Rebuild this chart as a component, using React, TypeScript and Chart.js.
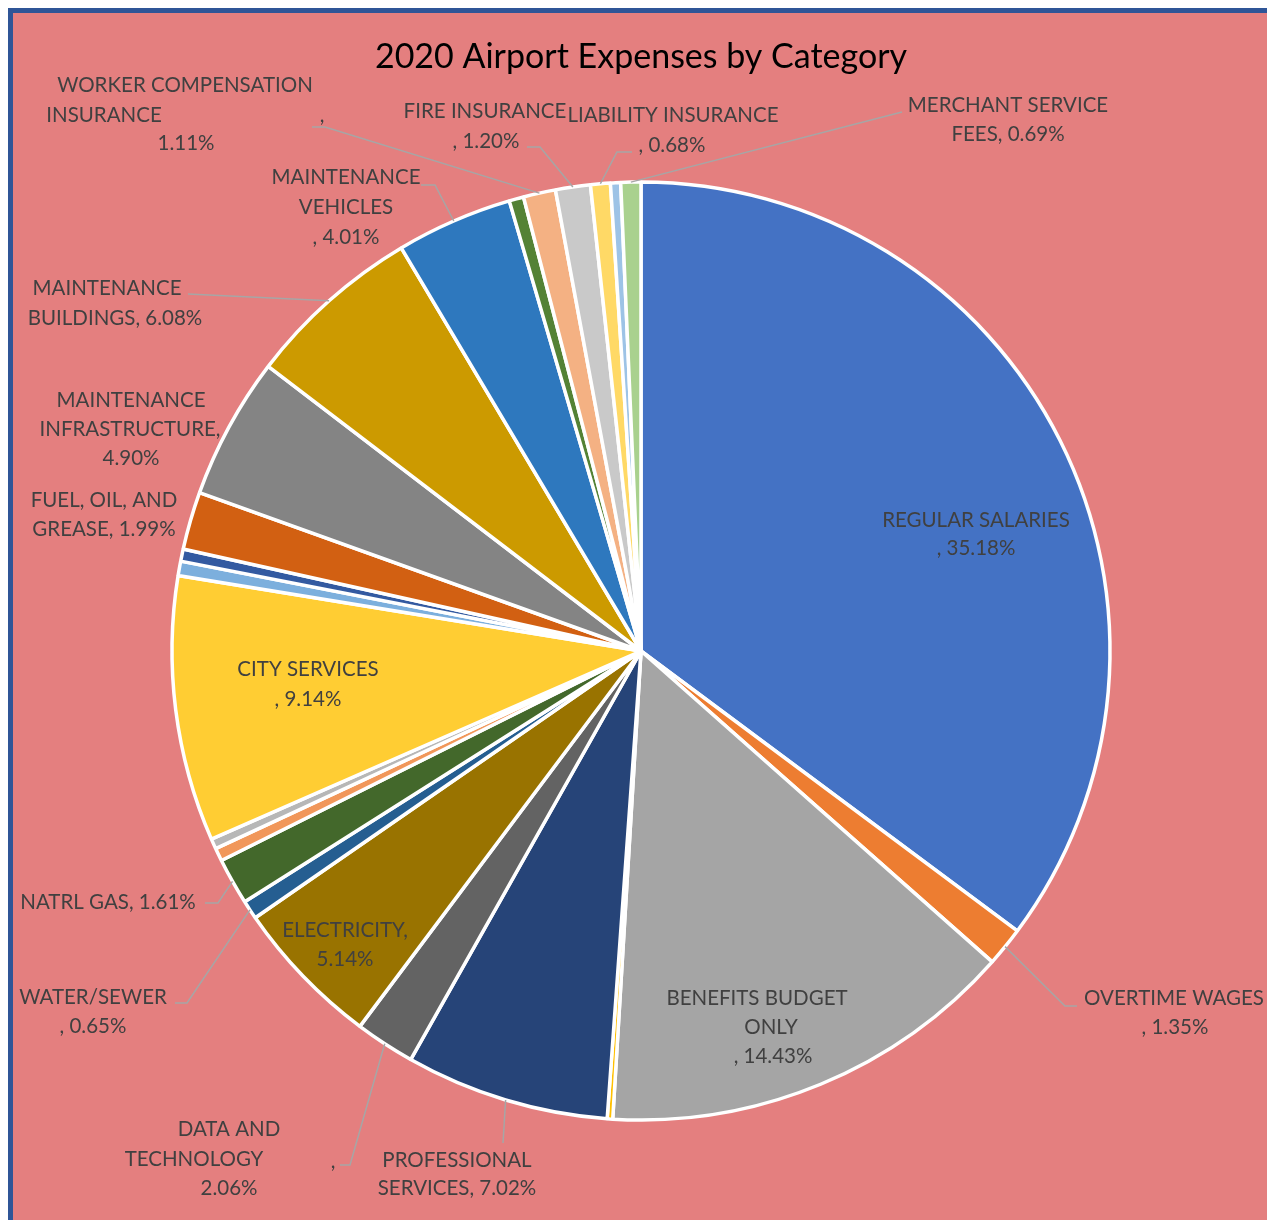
import React, { useEffect, useRef } from "react";
import { Chart, registerables } from "chart.js";

Chart.register(...registerables);

const TITLE = "2020 Airport Expenses by Category";

const CATEGORIES = [
  "REGULAR SALARIES",
  "OVERTIME WAGES",
  "BENEFITS BUDGET ONLY",
  "",
  "PROFESSIONAL SERVICES",
  "DATA AND TECHNOLOGY",
  "ELECTRICITY",
  "WATER/SEWER",
  "NATRL GAS",
  "",
  "",
  "CITY SERVICES",
  "",
  "",
  "FUEL, OIL, AND GREASE",
  "MAINTENANCE INFRASTRUCTURE",
  "MAINTENANCE BUILDINGS",
  "MAINTENANCE VEHICLES",
  "",
  "WORKER COMPENSATION INSURANCE",
  "FIRE INSURANCE",
  "LIABILITY INSURANCE",
  "",
  "MERCHANT SERVICE FEES",
];

const VALUES = [
  35.18, 1.35, 14.43, 0.19, 7.02, 2.06, 5.14, 0.65, 1.61, 0.45, 0.35, 9.14,
  0.5, 0.42, 1.99, 4.9, 6.08, 4.01, 0.5, 1.11, 1.2, 0.68, 0.35, 0.69,
];

const COLORS = [
  "#4472C4", "#ED7D31", "#A5A5A5", "#FFC000", "#264478", "#636363",
  "#997300", "#255E91", "#43682B", "#F1975A", "#B7B7B7", "#FFCD33",
  "#7CAFDD", "#335AA1", "#D26012", "#848484", "#CC9A00", "#2E78BE",
  "#548235", "#F4B183", "#C9C9C9", "#FFD966", "#9DC3E6", "#A9D18E",
];

// Label text lines ("{p}" = the slice percentage)
const LABEL_LINES: (string[] | null)[] = [
  ["REGULAR SALARIES", ", {p}"],
  ["OVERTIME WAGES", ", {p}"],
  ["BENEFITS BUDGET", "ONLY", ", {p}"],
  null,
  ["PROFESSIONAL", "SERVICES, {p}"],
  ["DATA AND", "TECHNOLOGY", "{p}", ","],
  ["ELECTRICITY,", "{p}"],
  ["WATER/SEWER", ", {p}"],
  ["NATRL GAS, {p}"],
  null,
  null,
  ["CITY SERVICES", ", {p}"],
  null,
  null,
  ["FUEL, OIL, AND", "GREASE, {p}"],
  ["MAINTENANCE", "INFRASTRUCTURE,", "{p}"],
  ["MAINTENANCE", "BUILDINGS, {p}"],
  ["MAINTENANCE", "VEHICLES", ", {p}"],
  null,
  ["WORKER COMPENSATION", "INSURANCE", "{p}", ","],
  ["FIRE INSURANCE", ", {p}"],
  ["LIABILITY INSURANCE", ", {p}"],
  null,
  ["MERCHANT SERVICE", "FEES, {p}"],
];

// Layout: text line centres and leader-line points, relative to the pie centre
type Lay = { pos: [number, number][]; leader?: [number, number][] };
const LABEL_LAYOUT: (Lay | null)[] = [
  { pos: [[335, -131], [335, -103]] },
  { pos: [[533, 347], [534, 376]], leader: [[436, 355], [424, 355]] },
  { pos: [[116, 347], [130, 376], [132, 405]] },
  null,
  { pos: [[-184, 509], [-184, 537]], leader: [[-138, 492]] },
  { pos: [[-412, 478], [-447, 508], [-412, 537], [-308, 510]], leader: [[-301, 514], [-291, 514]] },
  { pos: [[-296, 279], [-296, 308]] },
  { pos: [[-548, 346], [-548, 375]], leader: [[-466, 352], [-454, 352]] },
  { pos: [[-533, 251]], leader: [[-436, 252], [-423, 252]] },
  null,
  null,
  { pos: [[-333, 18], [-333, 48]] },
  null,
  null,
  { pos: [[-537, -151], [-537, -122]] },
  { pos: [[-510, -251], [-511, -222], [-510, -193]] },
  { pos: [[-534, -363], [-526, -333]], leader: [[-453, -357]] },
  { pos: [[-295, -474], [-295, -444], [-295, -414]], leader: [[-220, -466], [-206, -466]] },
  null,
  { pos: [[-456, -566], [-537, -536], [-455, -508], [-319, -536]], leader: [[-329, -524], [-316, -524]] },
  { pos: [[-156, -540], [-155, -510]], leader: [[-114, -504], [-101, -504]] },
  { pos: [[32, -536], [31, -506]], leader: [[-9, -499], [-24, -499]] },
  null,
  { pos: [[367, -546], [367, -517]], leader: [[261, -539]] },
];

const LABEL_FONT = "20.5px Lato";

const labelPlugin = {
  id: "sliceLabels",
  afterDatasetsDraw(chart: any) {
    const ctx = chart.ctx;
    const meta = chart.getDatasetMeta(0);
    const values = chart.data.datasets[0].data as number[];
    ctx.save();
    meta.data.forEach((arc: any, i: number) => {
      const lines = LABEL_LINES[i];
      const lay = LABEL_LAYOUT[i];
      if (!lines || !lay) return;
      const cx = arc.x;
      const cy = arc.y;
      if (lay.leader) {
        const mid = (arc.startAngle + arc.endAngle) / 2;
        const r = arc.outerRadius;
        ctx.beginPath();
        ctx.strokeStyle = "#A6A6A6";
        ctx.lineWidth = 1.5;
        lay.leader.forEach((p, k) => {
          if (k === 0) ctx.moveTo(cx + p[0], cy + p[1]);
          else ctx.lineTo(cx + p[0], cy + p[1]);
        });
        ctx.lineTo(cx + Math.cos(mid) * r, cy + Math.sin(mid) * r);
        ctx.stroke();
      }
      ctx.fillStyle = "#404040";
      ctx.font = LABEL_FONT;
      ctx.textAlign = "center";
      ctx.textBaseline = "middle";
      const pct = values[i].toFixed(2) + "%";
      lines.forEach((t, k) => {
        const p = lay.pos[k];
        ctx.fillText(t.replace("{p}", pct), cx + p[0], cy + p[1]);
      });
    });
    ctx.restore();
  },
};

export default function App() {
  const ref = useRef<HTMLCanvasElement | null>(null);
  useEffect(() => {
    document.documentElement.style.overflow = "hidden";
    document.body.style.overflow = "hidden";
    const chart = new Chart(ref.current as HTMLCanvasElement, {
      type: "pie",
      data: {
        labels: CATEGORIES,
        datasets: [
          {
            data: VALUES,
            backgroundColor: COLORS,
            borderColor: "#FFFFFF",
            borderWidth: 3.5,
            radius: 469,
          } as any,
        ],
      },
      options: {
        animation: false,
        responsive: false,
        maintainAspectRatio: false,
        layout: { padding: { left: 148, right: 148, top: 0, bottom: 112 } },
        plugins: {
          legend: { display: false },
          tooltip: { enabled: false },
          title: {
            display: true,
            text: TITLE,
            color: "#000000",
            font: { family: "Lato", size: 34, weight: "normal" },
            padding: { top: 23.6, bottom: 93.6 },
          },
        },
      } as any,
      plugins: [labelPlugin],
    });
    return () => chart.destroy();
  }, []);
  return (
    <div
      style={{
        width: 1266,
        height: 1240,
        boxSizing: "border-box",
        border: "5px solid #2F5597",
        background: "#E47F7F",
        position: "relative",
      }}
    >
      <canvas ref={ref} width={1256} height={1230} style={{ display: "block" }} />
    </div>
  );
}
